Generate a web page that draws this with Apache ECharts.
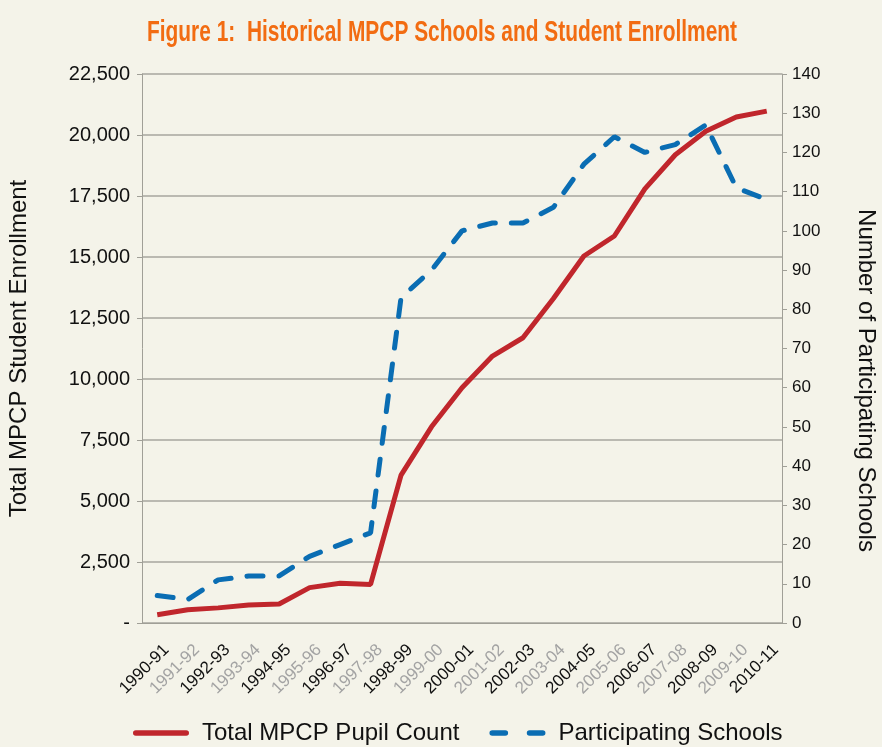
<!DOCTYPE html>
<html>
<head>
<meta charset="utf-8">
<script src="https://cdn.jsdelivr.net/npm/echarts@6/dist/echarts.min.js"></script>
<style>
html,body{margin:0;padding:0;background:#F4F3E9;}
#main{width:882px;height:747px;}
</style>
</head>
<body>
<div id="main"></div>
<script>
var years = ['1990-91','1991-92','1992-93','1993-94','1994-95','1995-96','1996-97','1997-98','1998-99','1999-00','2000-01','2001-02','2002-03','2003-04','2004-05','2005-06','2006-07','2007-08','2008-09','2009-10','2010-11'];
var pupils = [341, 540, 620, 740, 780, 1450, 1630, 1580, 6060, 8040, 9640, 10940, 11690, 13300, 15040, 15860, 17790, 19190, 20150, 20740, 20980];
var schools = [7, 6, 11, 12, 12, 17, 20, 23, 83, 90, 100, 102, 102, 106, 117, 124, 120, 122, 127, 111, 108];
var titleText = 'Figure 1:  Historical MPCP Schools and Student Enrollment';

function fmt(v) {
	if (v === 0) return '-';
	return String(v).replace(/\B(?=(\d{3})+(?!\d))/g, ',');
}

// condensed look for the title: squeeze a bold face to the reference width
var titleFont = 'bold 30px "Liberation Sans", Arial, sans-serif';
var ctx = document.createElement('canvas').getContext('2d');
ctx.font = titleFont;
var titleScale = 590 / ctx.measureText(titleText).width;

var dashIcon = 'path://M3,0h14a3,3 0 0 1 0,6h-14a3,3 0 0 1 0,-6z M43,0h14a3,3 0 0 1 0,6h-14a3,3 0 0 1 0,-6z';
var barIcon = 'path://M3,0h54a3,3 0 0 1 0,6h-54a3,3 0 0 1 0,-6z';

echarts.init(document.getElementById('main')).setOption({
	backgroundColor: '#F4F3E9',
	graphic: [{
		type: 'text',
		x: 442,
		y: 18,
		scaleX: titleScale,
		style: {
			text: titleText,
			font: titleFont,
			fill: '#F26C12',
			align: 'center',
			verticalAlign: 'top'
		}
	}],
	legend: {
		left: 128,
		bottom: -3,
		itemWidth: 56,
		itemHeight: 6,
		itemGap: 30,
		textStyle: {fontFamily: 'Liberation Sans', fontSize: 24, color: '#111', padding: [0, 0, 0, 8]},
		data: [
			{name: 'Total MPCP Pupil Count', icon: barIcon},
			{name: 'Participating Schools', icon: dashIcon}
		]
	},
	grid: {left: 142, right: 100, top: 74, bottom: 124, outerBoundsMode: 'none'},
	xAxis: {
		type: 'category',
		data: years,
		axisLine: {lineStyle: {color: '#A09F97'}},
		axisTick: {length: 5, lineStyle: {color: '#A09F97'}},
		axisLabel: {
			rotate: 45,
			interval: 0,
			margin: 15,
			align: 'right',
			verticalAlign: 'top',
			lineHeight: 26,
			fontFamily: 'Liberation Sans',
			fontSize: 17,
			color: function (v, i) { return i % 2 ? '#A3A3A3' : '#111'; }
		}
	},
	yAxis: [{
		type: 'value',
		min: 0, max: 22500, interval: 2500,
		name: 'Total MPCP Student Enrollment',
		nameLocation: 'middle',
		nameGap: 111,
		nameTextStyle: {fontFamily: 'Liberation Sans', fontSize: 24, color: '#111'},
		axisLine: {show: true, lineStyle: {color: '#A09F97'}},
		axisTick: {show: true, length: 5, lineStyle: {color: '#A09F97'}},
		axisLabel: {formatter: fmt, fontFamily: 'Liberation Sans', fontSize: 20, color: '#111', margin: 12},
		splitLine: {lineStyle: {color: '#A7A69E', width: 1.5}}
	}, {
		type: 'value',
		min: 0, max: 140, interval: 10,
		name: 'Number of Participating Schools',
		nameLocation: 'middle',
		nameRotate: -90,
		nameGap: 72,
		nameTextStyle: {fontFamily: 'Liberation Sans', fontSize: 24, color: '#111', padding: [0, 0, 0, 64]},
		axisLine: {show: true, lineStyle: {color: '#A09F97'}},
		axisTick: {show: true, length: 5, lineStyle: {color: '#A09F97'}},
		axisLabel: {fontFamily: 'Liberation Sans', fontSize: 17, color: '#111', margin: 10},
		splitLine: {show: false}
	}],
	series: [{
		name: 'Total MPCP Pupil Count',
		type: 'line',
		yAxisIndex: 0,
		symbol: 'none',
		data: pupils,
		itemStyle: {color: '#C0262C'},
		lineStyle: {color: '#C0262C', width: 5}
	}, {
		name: 'Participating Schools',
		type: 'line',
		yAxisIndex: 1,
		symbol: 'none',
		data: schools,
		itemStyle: {color: '#0A6DB3'},
		lineStyle: {color: '#0A6DB3', width: 5, type: [16, 16], cap: 'round'}
	}]
});
</script>
</body>
</html>
